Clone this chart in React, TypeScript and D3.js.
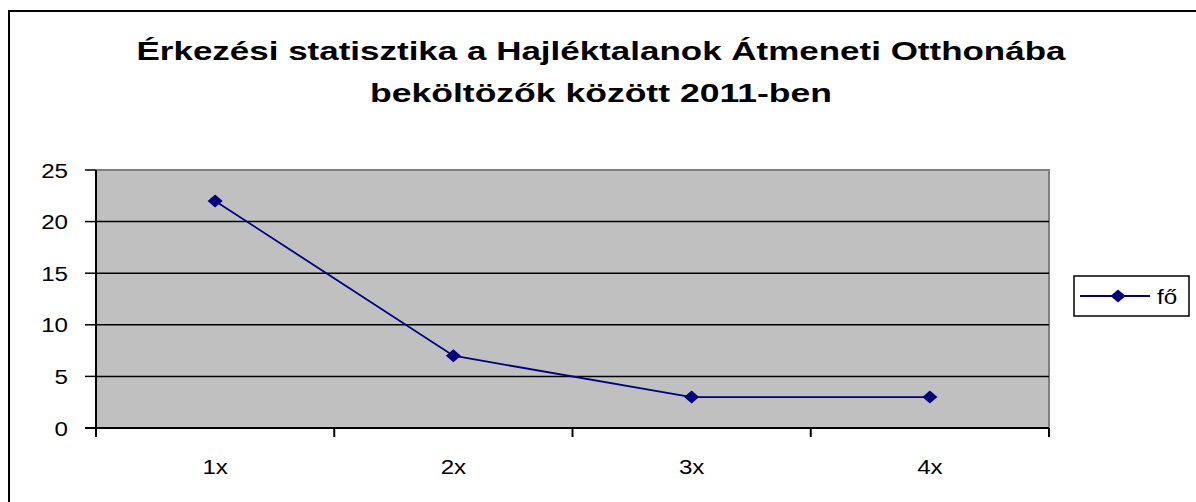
import React from 'react';
import { scaleBand, scaleLinear, line as d3line } from 'd3';

// chart data
const categories = ['1x', '2x', '3x', '4x'];
const values = [22, 7, 3, 3];
const yTicks = [0, 5, 10, 15, 20, 25];
const seriesName = 'fő';
const titleLines = [
    'Érkezési statisztika a Hajléktalanok Átmeneti Otthonába',
    'beköltözők között 2011-ben'
];

const W = 1196, H = 502;
const plot = { left: 96, right: 1049, top: 170, bottom: 428 };
const STRETCH = 1.15; // the original picture is stretched sideways
const FONT = 'Arial, "Liberation Sans", sans-serif';
const NAVY = '#000080';

// text widened like the source image
const WideText = ({ x, y, anchor = 'middle', size = 21, weight = 'normal', children }) => (
    <text
        transform={`translate(${x},${y}) scale(${STRETCH},1)`}
        textAnchor={anchor}
        fontSize={size}
        fontWeight={weight}
        fontFamily={FONT}
        fill="#000"
    >
        {children}
    </text>
);

// wide diamond marker as in excel
const diamond = 'M0,-6.5L7.5,0L0,6.5L-7.5,0Z';

const App = () => {
    const x = scaleBand().domain(categories).range([plot.left, plot.right]).padding(0);
    const y = scaleLinear().domain([0, 25]).range([plot.bottom, plot.top]);

    const pts = categories.map((c, i) => [x(c) + x.bandwidth() / 2, y(values[i])]);
    const path = d3line()(pts);

    const edges = categories.map(c => x(c)).concat([plot.right]);
    const legendY = 296;

    return (
        <svg width={W} height={H} style={{ position: 'absolute', left: 0, top: 0, background: '#fff' }}>
            {/* outer chart border */}
            <rect x={9} y={11} width={1200} height={520} fill="none" stroke="#000" strokeWidth={2} />

            {titleLines.map((t, i) => (
                <text
                    key={i}
                    x={601}
                    y={60 + i * 42}
                    textAnchor="middle"
                    fontSize={26}
                    fontWeight="bold"
                    fontFamily={FONT}
                    textLength={i === 0 ? 929 : 462}
                    lengthAdjust="spacingAndGlyphs"
                >
                    {t}
                </text>
            ))}

            {/* plot area */}
            <rect x={plot.left} y={plot.top} width={plot.right - plot.left} height={plot.bottom - plot.top} fill="#C0C0C0" />
            <path d={`M${plot.left},${plot.top}H${plot.right}V${plot.bottom}`} fill="none" stroke="#808080" strokeWidth={2} />

            {yTicks.filter(t => t > 0 && t < 25).map(t => (
                <line key={t} x1={plot.left} x2={plot.right} y1={y(t)} y2={y(t)} stroke="#000" strokeWidth={1.5} />
            ))}

            {/* axes */}
            <line x1={plot.left} x2={plot.left} y1={plot.top} y2={plot.bottom + 9} stroke="#000" strokeWidth={2} />
            <line x1={plot.left - 11} x2={plot.right} y1={plot.bottom} y2={plot.bottom} stroke="#000" strokeWidth={2} />
            {yTicks.map(t => (
                <g key={t}>
                    <line x1={plot.left - 11} x2={plot.left} y1={y(t)} y2={y(t)} stroke="#000" strokeWidth={1.5} />
                    <WideText x={68} y={y(t) + 7.5} anchor="end">{t}</WideText>
                </g>
            ))}
            {edges.map((e, i) => (
                <line key={i} x1={e} x2={e} y1={plot.bottom} y2={plot.bottom + 9} stroke="#000" strokeWidth={2} />
            ))}
            {categories.map(c => (
                <WideText key={c} x={x(c) + x.bandwidth() / 2} y={474}>{c}</WideText>
            ))}

            {/* series */}
            <path d={path} fill="none" stroke={NAVY} strokeWidth={1.8} />
            {pts.map((p, i) => (
                <path key={i} d={diamond} transform={`translate(${p[0]},${p[1]})`} fill={NAVY} />
            ))}

            {/* legend */}
            <rect x={1074} y={276} width={115} height={40} fill="#fff" stroke="#000" strokeWidth={1.5} />
            <line x1={1080} x2={1150} y1={legendY} y2={legendY} stroke={NAVY} strokeWidth={1.8} />
            <path d={diamond} transform={`translate(1118,${legendY})`} fill={NAVY} />
            <WideText x={1157} y={legendY + 7.5} anchor="start">{seriesName}</WideText>
        </svg>
    );
};

export default App;
